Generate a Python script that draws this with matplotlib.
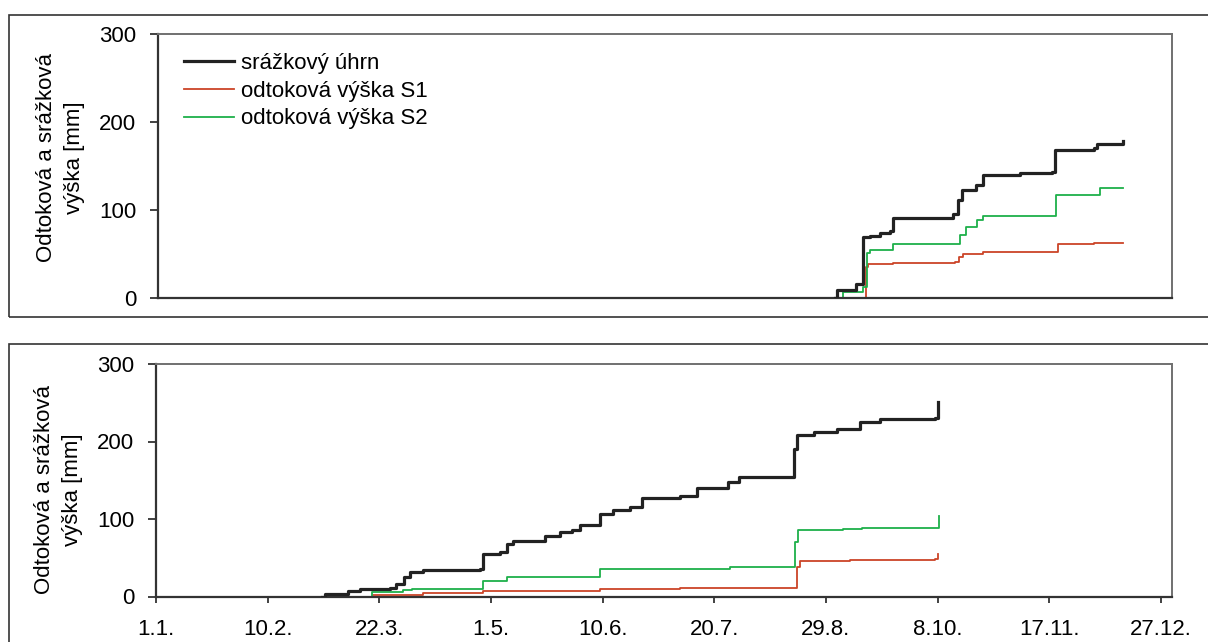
import matplotlib
matplotlib.use("Agg")
import matplotlib.pyplot as plt
from matplotlib.patches import Rectangle

plt.rcParams['font.family'] = ['Liberation Sans', 'DejaVu Sans']

# x axis: day of year
TICK_DAYS = [1, 41, 81, 121, 161, 201, 241, 281, 321, 361]
TICK_LABELS = ['1.1.', '10.2.', '22.3.', '1.5.', '10.6.', '20.7.', '29.8.', '8.10.', '17.11.', '27.12.']

YLABEL = 'Odtoková a srážková\nvýška [mm]'
NAMES = ['srážkový úhrn', 'odtoková výška S1', 'odtoková výška S2']
COLORS = ['#222222', '#cc4428', '#1eb04a']
WIDTHS = [2.3, 1.3, 1.3]

# top panel (cumulative values)
top_rain_day = [244, 244.7, 251.5, 254, 256.5, 260, 263.7, 265, 286.4, 288, 289.6, 294.8, 297,
                310.4, 322, 323, 337, 338, 347.5]
top_rain_mm = [0, 8.7, 15.6, 69, 70.5, 73, 76, 91, 94.7, 111, 122, 128, 139.4,
               142, 143, 168, 169.6, 174.6, 178]

top_s1_day = [244, 255, 256, 257.7, 265, 287, 288.5, 290, 297, 322, 324, 337, 347.5]
top_s1_mm = [0, 35, 38, 38.5, 39.8, 41, 46.6, 49.7, 52.3, 52.3, 60.6, 62.5, 62.5]

top_s2_day = [244, 247, 254, 255.6, 256.5, 265, 287, 289, 291, 295, 297, 322, 323.5, 337, 339, 347.5]
top_s2_mm = [0, 6.8, 12.5, 50.4, 54, 60.6, 60.6, 71, 80.7, 88, 92.8, 93, 116.7, 117, 125, 125]

# bottom panel
bot_rain_day = [60.4, 61.6, 69.9, 74, 84.9, 87, 90, 92, 96.8, 117, 118.3, 124.3, 126.7, 129,
                140.4, 145.8, 150, 153, 160, 164.8, 170.9, 175, 188.8, 194.8, 206, 210,
                228.8, 229.5, 230.6, 236.6, 245, 253.3, 260.5, 280.2, 281.3]
bot_rain_mm = [0, 3.5, 6.5, 10, 10.5, 16.4, 25, 31.5, 34.5, 35.8, 55.2, 57, 68, 71.6,
               78, 83.2, 86.3, 92.8, 107, 111, 115.5, 127.7, 129.4, 140, 148, 154.4,
               154.4, 190, 208.3, 212.6, 216, 225.5, 228.6, 230.7, 251.4]

bot_s1_day = [78.9, 96.8, 118.3, 160, 188.8, 210, 228.8, 230.5, 231.8, 249.7, 280.2, 281.3]
bot_s1_mm = [2, 4, 7, 9.7, 11, 11.6, 11.6, 38, 45.7, 47.5, 48.7, 55.2]

bot_s2_day = [56.2, 78.3, 89.6, 92.6, 118.3, 126.7, 160, 206.7, 228.8, 229.8, 231, 247, 253.9,
              280.2, 281.4]
bot_s2_mm = [0, 5.4, 8, 10.3, 20.3, 25.4, 34.9, 38.3, 38.3, 70, 85.4, 86.7, 88.8, 88.8, 104]

TOP = [(top_rain_day, top_rain_mm), (top_s1_day, top_s1_mm), (top_s2_day, top_s2_mm)]
BOTTOM = [(bot_rain_day, bot_rain_mm), (bot_s1_day, bot_s1_mm), (bot_s2_day, bot_s2_mm)]

FS = 16


def style_axes(ax, show_xlabels):
    ax.set_xlim(1, 365)
    ax.set_ylim(0, 300)
    ax.set_yticks([0, 100, 200, 300])
    ax.set_xticks(TICK_DAYS)
    if show_xlabels:
        ax.set_xticklabels(TICK_LABELS, fontsize=FS)
        ax.tick_params(axis='x', direction='out', length=4.5, width=1.3, color='#333333', pad=12)
    else:
        ax.tick_params(axis='x', length=0, labelbottom=False)
    ax.tick_params(axis='y', direction='out', length=5.5, width=1.3, color='#333333', labelsize=FS, pad=10)
    for side in ['left', 'bottom']:
        ax.spines[side].set_color('#333333')
        ax.spines[side].set_linewidth(1.6)
    for side in ['top', 'right']:
        ax.spines[side].set_color('#707070')
        ax.spines[side].set_linewidth(1.4)
    ax.set_ylabel(YLABEL, fontsize=FS, labelpad=10, linespacing=1.45)


fig = plt.figure(figsize=(12.08, 6.42), dpi=100)

# panel frames
fig.patches.append(Rectangle((9 / 1208, 1 - 317 / 642), 1.2, (317 - 15) / 642,
                             transform=fig.transFigure, fill=False, edgecolor='#333333',
                             linewidth=1.2, zorder=0))
fig.patches.append(Rectangle((9 / 1208, -0.2), 1.2, 0.2 + 1 - 344 / 642,
                             transform=fig.transFigure, fill=False, edgecolor='#333333',
                             linewidth=1.2, zorder=0))

ax1 = fig.add_axes([158 / 1208, 1 - 297.7 / 642, (1172 - 158) / 1208, (297.7 - 33.5) / 642])
ax2 = fig.add_axes([156 / 1208, 1 - 596.5 / 642, (1172 - 156) / 1208, (596.5 - 364) / 642])

for ax, series in [(ax1, TOP), (ax2, BOTTOM)]:
    for (d, v), name, c, w in zip(series, NAMES, COLORS, WIDTHS):
        ax.plot(d, v, drawstyle='steps-post', color=c, linewidth=w, label=name)
    # draw the rain line on top
    ax.lines[0].set_zorder(3)

style_axes(ax1, False)
style_axes(ax2, True)
ax1.yaxis.label.set_y(0.53)
ax2.yaxis.label.set_y(0.46)

ax1.legend(loc='upper left', frameon=False, fontsize=FS, handlelength=2.25,
           handletextpad=0.3, labelspacing=0.3, borderaxespad=0.0,
           bbox_to_anchor=(0.017, 0.96))

fig.savefig('out.png', dpi=100)
